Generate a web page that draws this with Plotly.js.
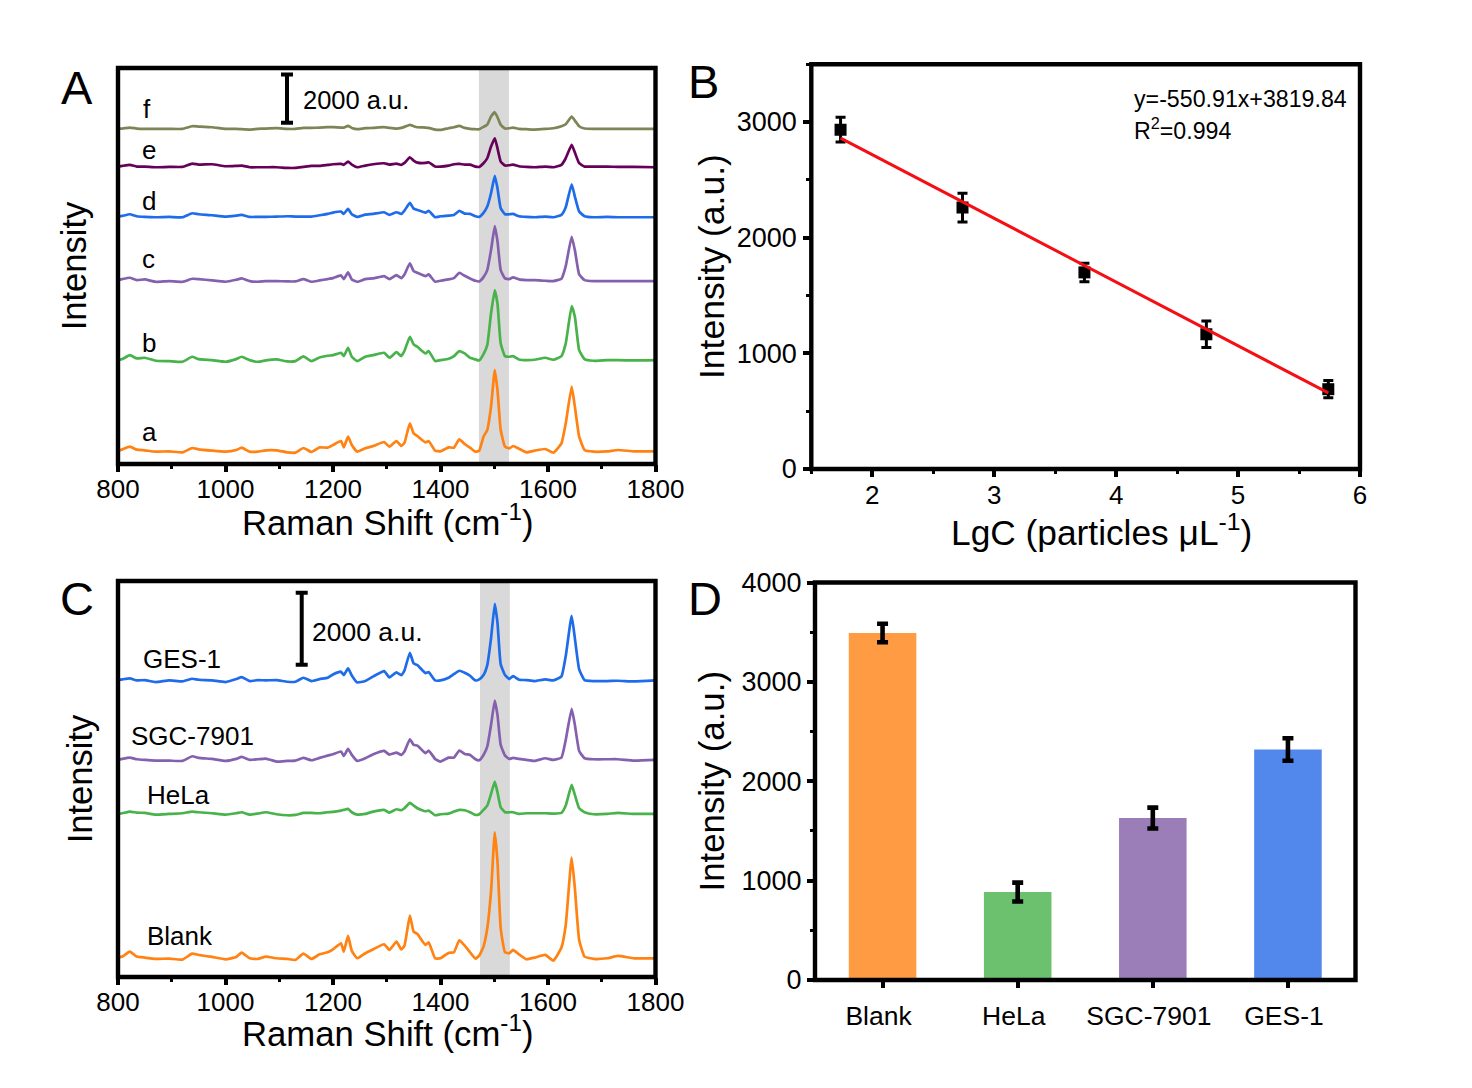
<!DOCTYPE html>
<html><head><meta charset="utf-8">
<script src="https://cdn.plot.ly/plotly-3.0.1.min.js"></script>
<style>html,body{margin:0;padding:0;background:#fff}</style></head>
<body><div id="chart" style="width:1472px;height:1088px"></div>
<script>
// Raman shift grid (cm-1), shared by all spectra
const shift = [800,808,822,835,850,870,895,920,938,950,975,1000,1020,1030,1045,1060,1075,1095,1115,1130,1145,1160,1175,1190,1200,1215,1220,1228,1235,1245,1260,1275,1295,1305,1318,
 1327,1333,1343,1350,1357,1372,1378,1390,1400,1415,1425,1435,1445,1455,1465,1472,1480,1487,1494,1501,1506,1512,1520,1528,1535,1546,1560,1575,1595,1610,1625,1633,1644,1650,1658,1668,1685,1710,1730,1760,1800];

// Panel A spectra (height above each baseline, chart units)
const specA_a = [3,7,15,6,4,0,1,-2,11,7,3,0,5,12,0,0,4,4,-2,-3,11,-1,13,12,20,32,13,45,20,0,10,17,29,15,32,
 17,27,85,55,47,28,32,3,1,13,12,37,23,12,0,3,45,65,135,245,185,65,15,10,17,9,-2,3,8,-3,25,85,195,135,45,5,0,1,5,1,1];
const specA_b = [0,3,15,5,7,-2,-3,-5,10,3,0,-5,3,10,0,-5,-1,2,-4,-3,11,-3,8,13,15,22,12,37,10,-3,10,15,22,7,24,
 12,28,70,47,40,20,27,-3,0,4,12,27,20,7,2,-1,18,45,140,210,170,50,12,10,12,2,0,1,7,1,12,50,162,130,30,3,-2,0,0,-1,0];
const specA_c = [3,6,10,3,5,-2,0,-2,7,6,2,-2,4,8,0,-2,0,0,-1,-1,6,-2,2,6,9,17,6,26,5,-2,6,8,15,6,18,
 9,20,53,30,25,15,20,-2,1,5,9,25,16,8,1,-1,12,33,93,165,120,33,8,6,11,5,3,3,1,0,7,45,133,93,20,3,0,0,0,0,0];
const specA_d = [0,2,7,1,-1,-2,-1,-2,10,7,4,0,3,5,-1,-1,-1,0,1,0,0,0,4,8,12,15,8,23,7,-1,6,8,13,5,13,
 8,18,41,24,20,12,17,-2,1,3,5,17,9,8,1,-1,11,30,70,122,85,25,7,7,8,1,-1,-2,0,-2,5,28,97,60,15,1,-2,-1,-2,-2,-2];
const specA_e = [0,2,5,0,0,-2,-1,-1,9,6,7,1,2,3,-2,-2,-2,-2,-4,-4,-1,2,2,5,7,8,5,15,6,-2,3,7,10,6,9,
 5,11,28,18,12,11,13,0,0,3,7,8,6,6,0,-1,10,25,60,85,55,15,3,4,6,1,-1,-2,0,-2,5,25,65,42,10,0,0,0,-1,-1,-2];
const specA_f = [1,1,4,1,0,0,0,0,8,7,5,0,0,-1,-2,0,1,2,0,0,3,3,4,5,5,4,4,9,3,-1,2,3,5,3,1,
 3,6,12,8,5,4,3,-2,-3,2,5,9,3,0,-1,-1,6,13,37,50,35,12,1,2,4,0,-1,-2,0,2,8,14,37,25,8,1,0,0,0,0,0];

// Panel C spectra
const specC_blank = [2,5,20,5,2,-2,-1,-4,14,10,4,-3,4,17,0,-2,5,0,-2,-5,14,-2,12,18,27,45,20,67,22,0,15,27,42,25,50,
 27,38,128,80,73,40,48,0,0,16,18,54,38,18,-1,8,35,90,200,378,290,90,18,15,25,12,-3,2,10,-7,32,100,302,210,55,5,-2,0,7,0,0];
const specC_hela = [0,2,7,4,3,-2,0,2,7,5,2,-2,2,5,-2,1,5,-1,-4,-3,3,3,2,5,6,10,12,15,5,-2,0,7,12,4,14,
 11,17,33,25,17,8,10,-4,-1,1,7,12,11,5,-3,-1,12,25,60,97,65,20,5,5,5,0,2,2,2,1,3,25,87,57,17,5,-1,0,3,0,0];
const specC_sgc = [0,3,7,2,0,-2,-2,-3,11,6,3,-3,3,9,0,2,4,-5,-3,-2,6,-1,6,13,17,25,12,33,15,-3,5,17,27,16,22,
 15,25,62,45,43,20,28,3,-5,7,7,28,18,15,2,-1,15,40,105,178,135,45,13,3,6,3,0,-3,5,0,7,60,153,105,27,5,2,2,2,-2,0];
const specC_ges = [3,5,8,2,3,-3,2,-1,7,4,2,-3,6,12,0,3,2,3,-2,-2,10,0,6,10,20,28,18,38,17,-4,0,14,30,11,26,
 18,32,85,53,48,24,27,2,2,10,21,31,25,16,2,5,18,48,128,232,175,50,18,6,15,4,3,0,5,2,14,75,196,128,35,3,0,0,1,-1,2];

// Baselines in a.u. and a.u. per stored unit (2000 a.u. scale bar of each panel)
const unitA = 2000/145, unitC = 2000/216;
const baseA = {a:510, b:4300, c:7570, d:10240, e:12310, f:13870};
const baseC = {blank:520, hela:4530, sgc:6030, ges:8220};
const rangeA = [0,16390], rangeC = [0,11000];

// Panel B
const lgC = [1.74,2.74,3.74,4.74,5.74];
const lgI = [2934,2260,1700,1165,690];
const lgErr = [107,125,80,115,75];
const fitX = [1.74,5.74];
const fitY = [2861,658];

// Panel D
const cells = ['Blank','HeLa','SGC-7901','GES-1'];
const cellI = [3492,885,1630,2320];
const cellErr = [93,95,105,113];
const cellColors = ['#FF9B42','#6CC16F','#9B7EB8','#5287EC'];

const W=1472,H=1088, FONT='"Liberation Sans", Arial, sans-serif';
const dx=(a,b)=>[a/W,b/W], dy=(top,bot)=>[1-bot/H,1-top/H];
const spec=(v,base,unit,color,xa,ya,name)=>({type:'scatter',mode:'lines',x:shift,y:v.map(d=>base+d*unit),xaxis:xa,yaxis:ya,name,
  line:{color,width:2.7,shape:'spline',smoothing:0.4},hoverinfo:'name'});
const scaleBar=(x,y,xa,ya)=>({type:'scatter',mode:'lines',x:[x],y:[y],xaxis:xa,yaxis:ya,showlegend:false,
  error_y:{type:'constant',value:1000,color:'#000',thickness:4,width:6}});

const traces=[
 spec(specA_a,baseA.a,unitA,'#FF8212','x','y','a'),
 spec(specA_b,baseA.b,unitA,'#48B24B','x','y','b'),
 spec(specA_c,baseA.c,unitA,'#8560AE','x','y','c'),
 spec(specA_d,baseA.d,unitA,'#1F6CEB','x','y','d'),
 spec(specA_e,baseA.e,unitA,'#660058','x','y','e'),
 spec(specA_f,baseA.f,unitA,'#7F8456','x','y','f'),
 scaleBar(1114.4,15125,'x','y'),
 spec(specC_blank,baseC.blank,unitC,'#FF8212','x3','y3','Blank'),
 spec(specC_hela,baseC.hela,unitC,'#48B24B','x3','y3','HeLa'),
 spec(specC_sgc,baseC.sgc,unitC,'#8560AE','x3','y3','SGC-7901'),
 spec(specC_ges,baseC.ges,unitC,'#1F6CEB','x3','y3','GES-1'),
 scaleBar(1141.8,9677,'x3','y3'),
 {type:'scatter',mode:'markers',x:lgC,y:lgI,xaxis:'x2',yaxis:'y2',marker:{symbol:'square',size:12,color:'#000'},
  error_y:{type:'data',array:lgErr,color:'#000',thickness:3,width:5}},
 {type:'scatter',mode:'lines',x:fitX,y:fitY,xaxis:'x2',yaxis:'y2',line:{color:'#F50F14',width:3}},
 {type:'bar',x:cells,y:cellI,xaxis:'x4',yaxis:'y4',width:0.5,marker:{color:cellColors,line:{width:0}},
  error_y:{type:'data',array:cellErr,color:'#000',thickness:4.6,width:5.5}}
];

const tick={showline:false,showgrid:false,zeroline:false,ticks:'outside',tickcolor:'#000',tickwidth:4,ticklen:7,
  tickfont:{family:FONT,size:26,color:'#000'}};
const minor=d=>({dtick:d,ticks:'outside',ticklen:4,tickwidth:3,tickcolor:'#000',showgrid:false});
const ttl=(t,size,st)=>({text:t,font:{family:FONT,size,color:'#000'},standoff:st});
const RAMAN='Raman Shift (cm<sup>-1</sup>)', INT='Intensity (a.u.)';

const frame=(xa,ya)=>({type:'rect',xref:xa+' domain',yref:ya+' domain',x0:0,x1:1,y0:0,y1:1,line:{color:'#000',width:4.4},layer:'above'});
const band=(xa,ya,a,b)=>({type:'rect',xref:xa,yref:ya+' domain',x0:a,x1:b,y0:0,y1:1,fillcolor:'#D9D9D9',line:{width:0},layer:'below'});
const note=(t,x,y,size,anchor)=>({text:t,xref:'paper',yref:'paper',x:x/W,y:1-y/H,showarrow:false,xanchor:anchor||'left',yanchor:'middle',
  font:{family:FONT,size,color:'#000'}});

const layout={width:W,height:H,margin:{l:0,r:0,t:0,b:0},paper_bgcolor:'#fff',plot_bgcolor:'rgba(0,0,0,0)',showlegend:false,
 xaxis:{...tick,domain:dx(118,655.5),range:[800,1800],dtick:200,tick0:800,minor:minor(100),anchor:'y',ticklabelstandoff:-5},
 yaxis:{domain:dy(68,464),range:rangeA,showgrid:false,zeroline:false,showline:false,showticklabels:false,ticks:'',anchor:'x',title:ttl('Intensity',34.5,19)},
 xaxis3:{...tick,domain:dx(118,655.5),range:[800,1800],dtick:200,tick0:800,minor:minor(100),anchor:'y3',ticklabelstandoff:-5},
 yaxis3:{domain:dy(581,977),range:rangeC,showgrid:false,zeroline:false,showline:false,showticklabels:false,ticks:'',anchor:'x3',title:ttl('Intensity',34.5,13)},
 xaxis2:{...tick,domain:dx(811.3,1360),range:[1.5,6],dtick:1,tick0:2,minor:minor(0.5),anchor:'y2',ticklabelstandoff:-4},
 yaxis2:{...tick,domain:dy(64.2,469),range:[0,3500],dtick:1000,tick0:0,minor:minor(500),anchor:'x2',tickfont:{family:FONT,size:27,color:'#000'},ticklabelstandoff:1,title:ttl(INT,35.5,1)},
 xaxis4:{...tick,domain:dx(815,1355.5),range:[-0.5,3.5],type:'category',anchor:'y4',tickfont:{family:FONT,size:26.5,color:'#000'},ticklabelstandoff:5,ticklabelshift:-4},
 yaxis4:{...tick,domain:dy(582.5,980),range:[0,4000],dtick:1000,tick0:0,minor:minor(500),anchor:'x4',tickfont:{family:FONT,size:27,color:'#000'},ticklabelstandoff:0,title:ttl(INT,34.8,6)},
 shapes:[frame('x','y'),frame('x2','y2'),frame('x3','y3'),frame('x4','y4'),band('x','y',1471.6,1527.4),band('x3','y3',1473.5,1529)],
 annotations:[
  note('A',59,87,47),note('B',686,82,47),note('C',58,598,47),note('D',686,598,47),
  note('a',140,432,26),note('b',140,343,26),note('c',140,259,26),note('d',140,201,26),note('e',140,150,26),note('f',141,109,26),
  note('2000 a.u.',301,100,25.5),note('2000 a.u.',310,632,26.5),
  note('GES-1',141,659,26),note('SGC-7901',129,736,26),note('HeLa',145,795,26),note('Blank',145,936,26),
  note('y=-550.91x+3819.84',1132,99,23.2),note('R<sup>2</sup>=0.994',1132,129,23.2),
  note(RAMAN,387,520,34.7,'center'),note(RAMAN,387,1031,34.7,'center'),
  note('LgC (particles μL<sup>-1</sup>)',1101,530,35.3,'center')
 ]};
Plotly.newPlot('chart',traces,layout,{displayModeBar:false,staticPlot:true});
</script></body></html>
